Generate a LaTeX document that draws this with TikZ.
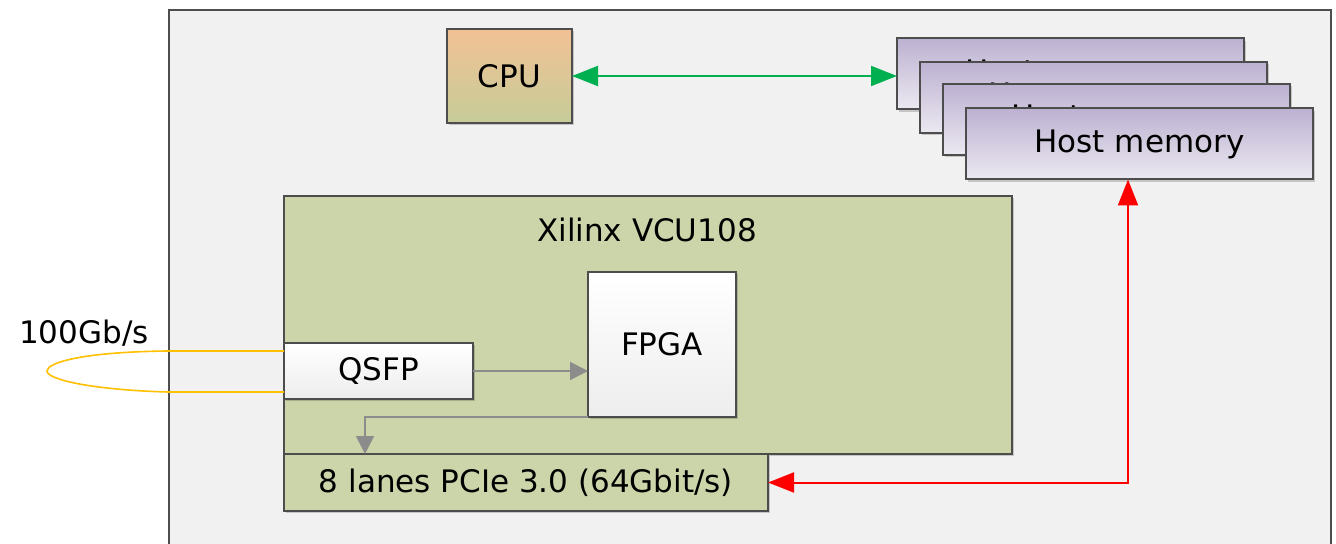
\documentclass[tikz,border=0pt]{standalone}
\usepackage{fontspec}
\setmainfont{DejaVu Sans}
\usetikzlibrary{arrows.meta,shadows}
\definecolor{outerfill}{HTML}{F1F1F1}
\definecolor{edge}{HTML}{4D4D4D}
\definecolor{cputop}{HTML}{F2C195}
\definecolor{cpubot}{HTML}{C6CC98}
\definecolor{memtop}{HTML}{BCB1D1}
\definecolor{membot}{HTML}{ECE9F1}
\definecolor{olive}{HTML}{CCD5AA}
\definecolor{greenline}{HTML}{00B050}
\definecolor{redline}{HTML}{FF0000}
\definecolor{orangeline}{HTML}{FFC000}
\definecolor{grayline}{HTML}{8C8C8C}
\tikzset{
  box/.style={draw=edge, line width=1pt, inner sep=0pt, outer sep=0pt,
    font=\fontsize{15.5}{18}\selectfont,
    drop shadow={shadow xshift=1.2pt, shadow yshift=-1.2pt, opacity=0.18, fill=black}},
  cpubox/.style={box, top color=cputop, bottom color=cpubot, minimum width=62.5pt, minimum height=47pt},
  membox/.style={box, top color=memtop, bottom color=membot, minimum width=173.5pt, minimum height=35.5pt},
  olivebox/.style={box, fill=olive},
  whitebox/.style={box, top color=white, bottom color=black!7},
  lbl/.style={font=\fontsize{15.5}{18}\selectfont, inner sep=0pt},
  greenarrow/.style={draw=greenline, line width=1pt, {Triangle[length=13pt,width=10pt]}-{Triangle[length=13pt,width=10pt]}},
  redarrow/.style={draw=redline, line width=1pt, {Triangle[length=13pt,width=10pt]}-{Triangle[length=13pt,width=10pt]}},
  grayarrow/.style={draw=grayline, line width=0.8pt, -{Triangle[length=9pt,width=9pt]}},
  loopline/.style={draw=orangeline, line width=0.8pt}
}
\begin{document}
\begin{tikzpicture}[x=0.5pt,y=-0.5pt]
\useasboundingbox (0,0) rectangle (1336,544);
\clip (0,0) rectangle (1336,544);
\fill[white] (0,0) rectangle (1336,544);
% outer host box
\draw[draw=edge, line width=1.2pt, fill=outerfill] (169,10) rectangle (1331,620);
% CPU
\node[cpubox] (cpu) at (509.5,76) {CPU};
% host memory stack
\node[membox] (mem1) at (1070.5,74) {Host memory};
\node[membox] (mem2) at (1093.5,97.5) {Host memory};
\node[membox] (mem3) at (1116,119.5) {Host memory};
\node[membox] (mem4) at (1139.5,144) {Host memory};
% board
\node[olivebox, minimum width=364pt, minimum height=129pt] (vcu) at (648,325) {};
\node[lbl] (vcutitle) at (647,230) {Xilinx VCU108};
\node[whitebox, minimum width=74pt, minimum height=72.5pt] (fpga) at (662,344.5) {FPGA};
\node[whitebox, minimum width=94.5pt, minimum height=28pt] (qsfp) at (378.5,371) {QSFP};
\node[olivebox, minimum width=242pt, minimum height=28.5pt] (pcie) at (526,482.5) {8 lanes PCIe 3.0 (64Gbit/s)};
% label
\node[lbl] (speed) at (84,333) {100Gb/s};
% connectors
\draw[greenarrow] (cpu.east) -- (cpu.east -| mem1.west);
\draw[redarrow] (pcie.east) -| ([xshift=-5.75pt]mem4.south);
\draw[grayarrow] (qsfp.east) -- (qsfp.east -| fpga.west);
\draw[grayarrow] (fpga.south west) -| ([xshift=40.5pt]pcie.north west);
% fibre loop
\coordinate (lt) at ([yshift=-4pt]qsfp.north west);
\coordinate (lb) at ([yshift=3.5pt]qsfp.south west);
\draw[loopline] (lt) -- (168,351) .. controls (80,352) and (47,363) .. (47,371)
  .. controls (47,380) and (95,390) .. (168,392) -- (lb);
\end{tikzpicture}
\end{document}
